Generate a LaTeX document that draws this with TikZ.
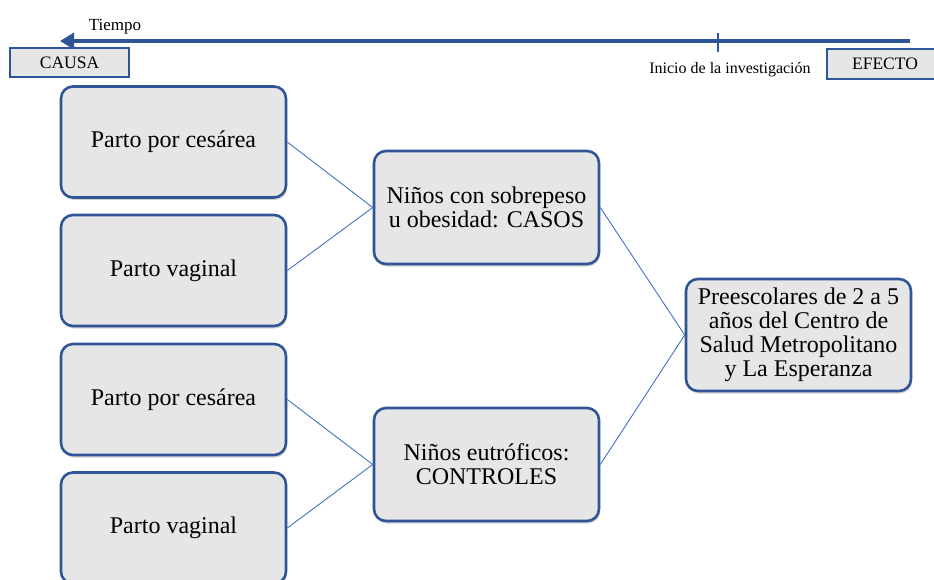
\documentclass[tikz,border=0pt]{standalone}
\usepackage{fontspec}
\setmainfont{Liberation Serif}
\usetikzlibrary{arrows.meta,shadows}
\definecolor{EstBlue}{HTML}{2F5597}
\definecolor{EstLine}{HTML}{4472C4}
\definecolor{EstFill}{HTML}{E7E6E6}

\begin{document}
\begin{tikzpicture}[x=1pt, y=-1pt,
  caja/.style={draw=EstBlue, fill=EstFill, line width=2.6pt, rounded corners=12pt,
               minimum width=225pt, minimum height=111pt, inner sep=2pt,
               font=\fontsize{24}{24}\selectfont, align=center,
               drop shadow={shadow xshift=1pt, shadow yshift=-2.5pt, opacity=0.35}},
  rotulo/.style={draw=EstBlue, fill=EstFill, line width=1.8pt,
                 minimum height=29pt, inner sep=2pt, font=\fontsize{17.5}{18}\selectfont},
  enlace/.style={draw=EstLine, line width=0.9pt},
  flecha/.style={draw=EstBlue, line width=4pt, -{Triangle[length=14pt,width=16pt]}},
  texto/.style={font=\fontsize{16}{18}\selectfont, inner sep=0pt}
]
  \useasboundingbox (0,0) rectangle (934,580);
  \clip (0,0) rectangle (934,580);
  \fill[white] (0,0) rectangle (934,580);

  % linea de tiempo
  \coordinate (t0) at (910,41);
  \coordinate (t1) at (60,41);
  \coordinate (m0) at (718,33);
  \coordinate (m1) at (718,52);
  \draw[flecha] (t0) -- (t1);
  \draw[draw=EstBlue, line width=2.5pt] (m0) -- (m1);
  \node[texto, font=\fontsize{17}{18}\selectfont] (tiempo) at (115,27) {Tiempo};
  \node[texto] (inicio) at (730,70) {Inicio de la investigación};
  \node[rotulo, minimum width=119pt] (causa)  at (69.5,62.5) {CAUSA};
  \node[rotulo, minimum width=116pt, minimum height=30pt] (efecto) at (885,64) {EFECTO};

  % cajas
  \node[caja] (ces1)    at (173.5,142)   {Parto por cesárea};
  \node[caja] (vag1)    at (173.5,270.5) {Parto vaginal};
  \node[caja] (ces2)    at (173.5,399.5) {Parto por cesárea};
  \node[caja] (vag2)    at (173.5,528)   {Parto vaginal};
  \node[caja, minimum height=113pt] (casos)   at (486.5,207.5) {Niños con sobrepeso\\u obesidad: CASOS};
  \node[caja, minimum height=113pt] (control) at (486.5,464.5) {Niños eutróficos:\\CONTROLES};
  \node[caja, minimum height=112pt] (pre)     at (798.5,335)   {Preescolares de 2 a 5\\años del Centro de\\Salud Metropolitano\\y La Esperanza};

  \draw[enlace] (ces1.east) -- (casos.west);
  \draw[enlace] (vag1.east) -- (casos.west);
  \draw[enlace] (ces2.east) -- (control.west);
  \draw[enlace] (vag2.east) -- (control.west);
  \draw[enlace] (casos.east) -- (pre.west);
  \draw[enlace] (control.east) -- (pre.west);
\end{tikzpicture}
\end{document}
